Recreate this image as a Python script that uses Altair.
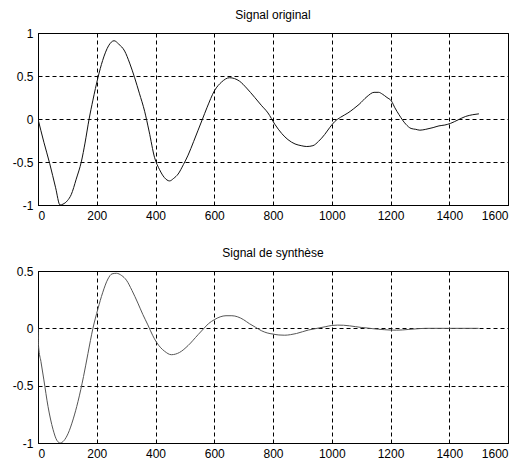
import altair as alt
import pandas as pd

# Signal original
x_orig = [0, 20, 40, 60, 75, 85, 100, 113, 130, 148, 160, 174, 187, 204, 220, 240, 259, 275, 295,
          312, 329, 345, 363, 378, 397, 414, 430, 448, 462, 477, 495, 511, 530, 545, 560, 575, 601,
          625, 652, 686, 710, 738, 760, 783, 806, 830, 851, 875, 896, 915, 936, 955, 976, 993, 1010,
          1030, 1055, 1075, 1093, 1120, 1144, 1160, 1172, 1188, 1203, 1215, 1229, 1252, 1270, 1286,
          1300, 1320, 1345, 1365, 1385, 1405, 1430, 1456, 1480, 1501]
y_orig = [0.0, -0.27, -0.52, -0.8, -1.0, -0.99, -0.95, -0.88, -0.7, -0.49, -0.28, 0.0, 0.22, 0.48,
          0.68, 0.85, 0.91, 0.87, 0.79, 0.65, 0.48, 0.3, 0.09, -0.14, -0.45, -0.59, -0.68, -0.72,
          -0.69, -0.64, -0.53, -0.42, -0.26, -0.13, 0.0, 0.13, 0.33, 0.43, 0.48, 0.44, 0.36, 0.25,
          0.16, 0.07, -0.06, -0.17, -0.24, -0.29, -0.31, -0.32, -0.31, -0.26, -0.18, -0.1, -0.03,
          0.02, 0.07, 0.12, 0.17, 0.26, 0.31, 0.31, 0.29, 0.25, 0.21, 0.13, 0.05, -0.06, -0.11,
          -0.12, -0.13, -0.12, -0.1, -0.08, -0.07, -0.05, -0.01, 0.03, 0.05, 0.06]

# Signal de synthèse
x_syn = [0, 2, 10, 20, 34, 51, 65, 76, 88, 102, 120, 136, 155, 170, 187, 204, 220, 238, 252, 267,
         285, 301, 320, 340, 357, 374, 390, 403, 418, 431, 454, 482, 511, 545, 565, 580, 600, 620,
         640, 660, 680, 700, 720, 740, 760, 780, 800, 820, 840, 860, 880, 900, 920, 940, 960, 980,
         1000, 1020, 1040, 1060, 1080, 1100, 1120, 1140, 1160, 1180, 1200, 1220, 1240, 1260, 1280,
         1300, 1320, 1400, 1500]
y_syn = [0.0, -0.16, -0.29, -0.45, -0.68, -0.88, -0.98, -1.0, -0.98, -0.92, -0.79, -0.64, -0.42,
         -0.22, 0.0, 0.17, 0.31, 0.43, 0.475, 0.48, 0.46, 0.42, 0.33, 0.22, 0.12, 0.03, -0.06,
         -0.12, -0.17, -0.2, -0.23, -0.21, -0.15, -0.055, 0.0, 0.04, 0.075, 0.1, 0.11, 0.11, 0.1,
         0.075, 0.04, 0.01, -0.02, -0.04, -0.05, -0.058, -0.06, -0.055, -0.045, -0.03, -0.015,
         -0.005, 0.005, 0.015, 0.025, 0.028, 0.027, 0.022, 0.015, 0.008, 0.003, -0.003, -0.008,
         -0.012, -0.015, -0.016, -0.014, -0.01, -0.006, -0.002, 0.0, 0.0, 0.0]

x_ticks = [0, 200, 400, 600, 800, 1000, 1200, 1400, 1600]
y_ticks_top = [-1, -0.5, 0, 0.5, 1]
y_ticks_bot = [-1, -0.5, 0, 0.5]

FONT = "Liberation Sans"


def panel(xs, ys, title, ydomain, yticks, color):
    df = pd.DataFrame({"x": xs, "y": ys})
    return alt.Chart(
        df,
        title=alt.TitleParams(title, fontSize=12, font=FONT, fontWeight="normal",
                              anchor="middle", offset=5, color="black"),
    ).mark_line(color=color, strokeWidth=1, interpolate="monotone", clip=True).encode(
        x=alt.X("x:Q", scale=alt.Scale(domain=[0, 1600], nice=False, zero=False),
                axis=alt.Axis(values=x_ticks, title=None, labelExpr="datum.value + ''")),
        y=alt.Y("y:Q", scale=alt.Scale(domain=ydomain, nice=False, zero=False),
                axis=alt.Axis(values=yticks, title=None, labelExpr="datum.value + ''")),
    ).properties(width=470, height=172)


top = panel(x_orig, y_orig, "Signal original", [-1, 1], y_ticks_top, "#111111")
bot = panel(x_syn, y_syn, "Signal de synthèse", [-1, 0.5], y_ticks_bot, "#555555")

chart = alt.vconcat(top, bot, spacing=24).properties(
    padding={"left": 11, "top": 8, "right": 0, "bottom": 0},
    background="white",
).configure_view(
    stroke="black", strokeWidth=1
).configure_axis(
    grid=True, gridColor="black", gridDash=[4, 3], gridWidth=1, gridOpacity=1,
    domainColor="black", domainWidth=1, ticks=False, labelPadding=5,
    labelFont=FONT, labelFontSize=12, labelColor="black",
).configure_axisX(labelAngle=0)

chart.save("out.html", embed_options={"renderer": "svg", "actions": False})
